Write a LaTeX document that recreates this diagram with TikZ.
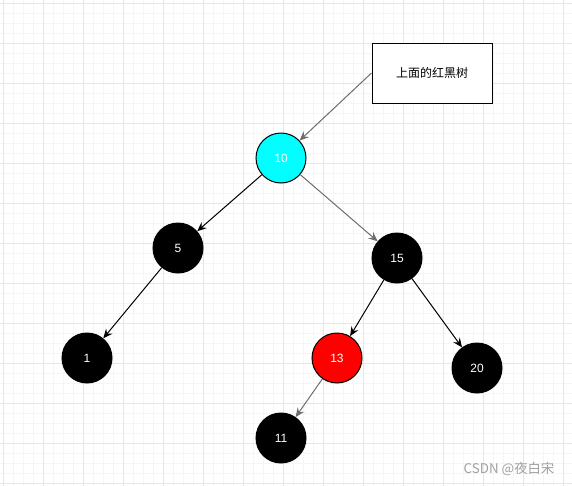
\documentclass[tikz,border=0pt]{standalone}
\usepackage{fontspec}
\setmainfont{Liberation Sans}
\newfontfamily\cjk{Noto Sans CJK SC}
\usetikzlibrary{arrows.meta}
\definecolor{gridminor}{HTML}{F5F5F5}
\definecolor{gridmajor}{HTML}{E6E6E6}
\definecolor{edgegray}{HTML}{6E6E6E}
\definecolor{wm}{HTML}{A0A0A0}
\definecolor{purecyan}{HTML}{00FFFF}
\definecolor{purered}{HTML}{FF0000}
\tikzset{
  treenode/.style={circle, minimum size=37.5pt, inner sep=0pt, draw=black, line width=0.75pt, text=white, font=\fontsize{9}{10}\selectfont},
  blacknode/.style={treenode, fill=black},
  cyannode/.style={treenode, fill=purecyan},
  rednode/.style={treenode, fill=purered},
  notebox/.style={draw=black, line width=0.75pt, fill=white, minimum width=90pt, minimum height=45pt, inner sep=0pt, font=\cjk\fontsize{9}{10}\selectfont},
  edge/.style={line width=0.75pt, draw=black, -{Stealth[length=7pt, width=6pt, inset=2.5pt]}},
  grayedge/.style={edge, draw=edgegray}
}
\begin{document}
\begin{tikzpicture}[x=0.75pt,y=-0.75pt]
\useasboundingbox (0,0) rectangle (572,486);
\fill[white] (0,0) rectangle (572,486);
% grid
\foreach \x in {3,13,...,573} \draw[gridminor, line width=0.75pt] (\x,0) -- (\x,486);
\foreach \y in {3,13,...,483} \draw[gridminor, line width=0.75pt] (0,\y) -- (572,\y);
\foreach \x in {3,43,...,563} \draw[gridmajor, line width=0.75pt] (\x,0) -- (\x,486);
\foreach \y in {3,43,...,483} \draw[gridmajor, line width=0.75pt] (0,\y) -- (572,\y);
% nodes
\node[notebox] (note) at (432,73) {上面的红黑树};
\node[cyannode] (n10) at (281,158) {10};
\node[blacknode] (n5) at (178,248) {5};
\node[blacknode] (n15) at (397,258) {15};
\node[blacknode] (n1) at (87,358) {1};
\node[rednode] (n13) at (337,358) {13};
\node[blacknode] (n20) at (477,368) {20};
\node[blacknode] (n11) at (281,438) {11};
% edges
\draw[grayedge] (note.west) -- (n10);
\draw[edge] (n10) -- (n5);
\draw[grayedge] (n10) -- (n15);
\draw[edge] (n5) -- (n1);
\draw[edge] (n15) -- (n13);
\draw[edge] (n15) -- (n20);
\draw[grayedge] (n13) -- (n11);
% watermark
\node[text=wm, font=\cjk\fontsize{10}{12}\selectfont, inner sep=0pt] (wmark) at (509,469) {CSDN @夜白宋};
\end{tikzpicture}
\end{document}
